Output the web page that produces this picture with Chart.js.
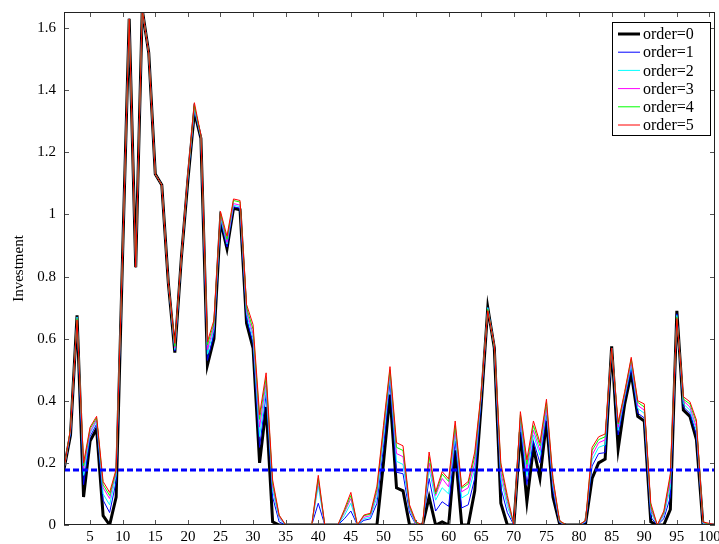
<!DOCTYPE html>
<html>
<head>
<meta charset="utf-8">
<script src="https://cdn.jsdelivr.net/npm/chart.js@4"></script>
<style>
  body { margin: 0; background: #fff; }
  #wrap { width: 719px; height: 544px; }
</style>
</head>
<body>
<div id="wrap"><canvas id="investChart" width="719" height="544"></canvas></div>
<script>
// periods 1..101 (axis stops a bit after 100)
var periods = Array.from({ length: 101 }, function (_, i) { return i + 1; });

var order0 = [0.18, 0.29, 0.675, 0.09, 0.27, 0.31, 0.03, 0.0, 0.09, 0.88,
  1.63, 0.83, 1.66, 1.52, 1.13, 1.095, 0.78, 0.555, 0.86, 1.11,
  1.33, 1.245, 0.515, 0.60, 0.98, 0.89, 1.02, 1.015, 0.65, 0.57,
  0.20, 0.38, 0.01, 0.0, 0, 0, 0, 0, 0, 0,
  0, 0, 0, 0, 0, 0, 0, 0, 0, 0.2,
  0.42, 0.12, 0.11, 0.0, 0, 0, 0.09, 0.0, 0.01, 0.0,
  0.24, 0.0, 0.0, 0.11, 0.39, 0.70, 0.57, 0.07, 0.0, 0,
  0.30, 0.075, 0.25, 0.15, 0.335, 0.09, 0.005, 0, 0, 0,
  0.005, 0.15, 0.2, 0.212, 0.575, 0.245, 0.39, 0.49, 0.35, 0.335,
  0.01, 0, 0.0, 0.05, 0.69, 0.37, 0.35, 0.275, 0.0, 0,
  0];
var order1 = [0.18, 0.295, 0.67, 0.13, 0.285, 0.325, 0.08, 0.04, 0.14, 0.88,
  1.63, 0.83, 1.66, 1.52, 1.13, 1.095, 0.78, 0.56, 0.86, 1.115,
  1.335, 1.245, 0.53, 0.615, 0.985, 0.895, 1.025, 1.02, 0.665, 0.585,
  0.25, 0.42, 0.09, 0.01, 0, 0, 0, 0, 0, 0.07,
  0, 0, 0, 0.02, 0.045, 0, 0.015, 0.02, 0.07, 0.25,
  0.46, 0.17, 0.165, 0.04, 0, 0, 0.15, 0.045, 0.075, 0.06,
  0.27, 0.055, 0.065, 0.15, 0.405, 0.70, 0.575, 0.12, 0.04, 0,
  0.32, 0.13, 0.27, 0.2, 0.355, 0.11, 0.008, 0, 0, 0,
  0.008, 0.19, 0.23, 0.233, 0.57, 0.29, 0.405, 0.505, 0.36, 0.345,
  0.025, 0, 0.02, 0.09, 0.68, 0.38, 0.36, 0.29, 0.005, 0,
  0];
var order2 = [0.18, 0.30, 0.67, 0.16, 0.295, 0.335, 0.10, 0.065, 0.16, 0.88,
  1.63, 0.83, 1.66, 1.52, 1.13, 1.095, 0.78, 0.565, 0.86, 1.12,
  1.34, 1.25, 0.55, 0.63, 0.99, 0.905, 1.03, 1.025, 0.68, 0.60,
  0.285, 0.44, 0.11, 0.02, 0, 0, 0, 0, 0, 0.125,
  0, 0, 0, 0.03, 0.07, 0, 0.02, 0.025, 0.09, 0.28,
  0.48, 0.205, 0.195, 0.05, 0, 0, 0.18, 0.08, 0.12, 0.10,
  0.29, 0.087, 0.10, 0.18, 0.415, 0.70, 0.575, 0.15, 0.06, 0,
  0.335, 0.16, 0.29, 0.225, 0.37, 0.125, 0.01, 0, 0, 0,
  0.01, 0.21, 0.25, 0.258, 0.57, 0.305, 0.415, 0.515, 0.375, 0.36,
  0.04, 0, 0.03, 0.12, 0.675, 0.39, 0.37, 0.305, 0.005, 0,
  0];
var order3 = [0.18, 0.305, 0.665, 0.18, 0.30, 0.34, 0.12, 0.085, 0.17, 0.88,
  1.63, 0.83, 1.66, 1.52, 1.13, 1.095, 0.78, 0.57, 0.86, 1.125,
  1.345, 1.25, 0.565, 0.64, 1.0, 0.91, 1.035, 1.03, 0.69, 0.615,
  0.315, 0.46, 0.125, 0.025, 0, 0, 0, 0, 0, 0.14,
  0, 0, 0, 0.04, 0.085, 0, 0.025, 0.03, 0.105, 0.30,
  0.49, 0.23, 0.22, 0.055, 0, 0, 0.20, 0.095, 0.15, 0.123,
  0.305, 0.107, 0.12, 0.20, 0.42, 0.695, 0.575, 0.17, 0.075, 0,
  0.345, 0.18, 0.305, 0.24, 0.38, 0.135, 0.01, 0, 0, 0,
  0.012, 0.225, 0.265, 0.274, 0.57, 0.315, 0.42, 0.525, 0.385, 0.37,
  0.05, 0, 0.035, 0.14, 0.67, 0.40, 0.38, 0.315, 0.008, 0,
  0];
var order4 = [0.18, 0.31, 0.665, 0.19, 0.31, 0.345, 0.13, 0.095, 0.175, 0.88,
  1.63, 0.83, 1.66, 1.52, 1.13, 1.095, 0.78, 0.575, 0.86, 1.125,
  1.35, 1.25, 0.58, 0.65, 1.005, 0.92, 1.045, 1.04, 0.70, 0.63,
  0.34, 0.475, 0.135, 0.03, 0, 0, 0, 0, 0, 0.15,
  0, 0, 0, 0.045, 0.095, 0, 0.03, 0.035, 0.115, 0.31,
  0.50, 0.25, 0.24, 0.06, 0.005, 0, 0.22, 0.10, 0.164, 0.14,
  0.32, 0.118, 0.133, 0.22, 0.425, 0.695, 0.575, 0.19, 0.085, 0,
  0.355, 0.195, 0.32, 0.255, 0.395, 0.145, 0.012, 0, 0, 0,
  0.014, 0.24, 0.275, 0.284, 0.57, 0.325, 0.425, 0.535, 0.395, 0.38,
  0.06, 0, 0.04, 0.155, 0.67, 0.405, 0.39, 0.33, 0.01, 0,
  0];
var order5 = [0.18, 0.31, 0.66, 0.20, 0.315, 0.35, 0.14, 0.105, 0.18, 0.88,
  1.63, 0.83, 1.66, 1.52, 1.13, 1.095, 0.78, 0.585, 0.86, 1.13,
  1.36, 1.255, 0.59, 0.66, 1.01, 0.93, 1.05, 1.045, 0.71, 0.645,
  0.355, 0.49, 0.145, 0.032, 0, 0, 0, 0, 0, 0.16,
  0, 0, 0, 0.05, 0.105, 0, 0.032, 0.038, 0.125, 0.32,
  0.51, 0.265, 0.255, 0.065, 0.01, 0, 0.235, 0.107, 0.172, 0.148,
  0.335, 0.123, 0.14, 0.235, 0.43, 0.69, 0.58, 0.20, 0.095, 0,
  0.365, 0.21, 0.335, 0.265, 0.405, 0.15, 0.015, 0, 0, 0,
  0.015, 0.25, 0.284, 0.293, 0.57, 0.33, 0.43, 0.54, 0.40, 0.39,
  0.07, 0, 0.045, 0.165, 0.665, 0.413, 0.397, 0.338, 0.01, 0.005,
  0];

var threshold = 0.177;
var xTicks = [5, 10, 15, 20, 25, 30, 35, 40, 45, 50, 55, 60, 65, 70, 75, 80, 85, 90, 95, 100];
var yTicks = [0, 0.2, 0.4, 0.6, 0.8, 1, 1.2, 1.4, 1.6];

var seriesNames = ['order=0', 'order=1', 'order=2', 'order=3', 'order=4', 'order=5'];
var seriesData = [order0, order1, order2, order3, order4, order5];
var seriesColors = ['#000000', '#0000ff', '#00ffff', '#ff00ff', '#00ff00', '#ff0000'];

const serif = "'Liberation Serif', 'DejaVu Serif', serif";

function toPoints(arr) {
  return arr.map(function (v, i) { return { x: periods[i], y: v }; });
}

var datasets = seriesData.map(function (arr, k) {
  return {
    label: seriesNames[k],
    data: toPoints(arr),
    borderColor: seriesColors[k],
    backgroundColor: seriesColors[k],
    borderWidth: k === 0 ? 3 : 1,
    pointRadius: 0,
    tension: 0,
    order: 6 - k
  };
});
datasets.push({
  label: 'threshold',
  data: [{ x: periods[0], y: threshold }, { x: periods[periods.length - 1], y: threshold }],
  borderColor: '#0000ff',
  borderWidth: 3,
  borderDash: [6, 3],
  pointRadius: 0,
  order: 0
});

// inside tick marks, frame and the boxed legend
const framePlugin = {
  id: 'frame',
  afterDatasetsDraw(chart) {
    const ctx = chart.ctx;
    const a = chart.chartArea;
    const xs = chart.scales.x, ys = chart.scales.y;
    ctx.save();
    ctx.strokeStyle = '#555';
    ctx.lineWidth = 1;
    ctx.beginPath();
    xTicks.forEach(function (t) {
      const px = Math.round(xs.getPixelForValue(t)) + 0.5;
      ctx.moveTo(px, a.bottom); ctx.lineTo(px, a.bottom - 5);
      ctx.moveTo(px, a.top); ctx.lineTo(px, a.top + 5);
    });
    yTicks.forEach(function (t) {
      const py = Math.round(ys.getPixelForValue(t)) + 0.5;
      ctx.moveTo(a.left, py); ctx.lineTo(a.left + 5, py);
      ctx.moveTo(a.right, py); ctx.lineTo(a.right - 5, py);
    });
    ctx.stroke();
    ctx.strokeStyle = '#222';
    ctx.strokeRect(a.left + 0.5, a.top + 0.5, a.right - a.left - 1, a.bottom - a.top - 1);

    // legend box
    const lx = 612.5, ly = 22.5, lw = 98, lh = 113;
    ctx.fillStyle = '#fff';
    ctx.fillRect(lx, ly, lw, lh);
    ctx.strokeStyle = '#000';
    ctx.lineWidth = 1;
    ctx.strokeRect(lx, ly, lw, lh);
    ctx.font = '16px ' + serif;
    ctx.textBaseline = 'middle';
    ctx.textAlign = 'left';
    seriesNames.forEach(function (name, k) {
      const yy = 34 + k * 18.2;
      ctx.beginPath();
      ctx.strokeStyle = seriesColors[k];
      ctx.lineWidth = k === 0 ? 3 : 1;
      ctx.moveTo(618, yy); ctx.lineTo(640, yy);
      ctx.stroke();
      ctx.fillStyle = '#000';
      ctx.fillText(name, 643, yy + 1);
    });
    ctx.restore();
  }
};

const ctx = document.getElementById('investChart').getContext('2d');
const investChart = new Chart(ctx, {
  type: 'line',
  data: { datasets: datasets },
  options: {
    responsive: false,
    animation: false,
    layout: { padding: { top: 12, right: 4, left: 0, bottom: 0 } },
    plugins: { legend: { display: false }, tooltip: { enabled: false } },
    scales: {
      x: {
        type: 'linear',
        min: 1,
        max: 100.85,
        grid: { display: false, drawTicks: false },
        border: { display: false },
        afterBuildTicks: function (scale) {
          scale.ticks = xTicks.map(function (v) { return { value: v }; });
        },
        afterFit: function (scale) {
          scale.height = 19;
          scale.paddingLeft = 0;
          scale.paddingRight = 0;
        },
        ticks: {
          padding: 3,
          maxRotation: 0,
          autoSkip: false,
          color: '#000',
          font: { family: serif, size: 15 }
        }
      },
      y: {
        min: 0,
        max: 1.652,
        grid: { display: false, drawTicks: false },
        border: { display: false },
        afterBuildTicks: function (scale) {
          scale.ticks = yTicks.map(function (v) { return { value: v }; });
        },
        afterFit: function (scale) {
          scale.width = 64;
          scale.paddingTop = 0;
          scale.paddingBottom = 0;
        },
        ticks: {
          padding: 8,
          color: '#000',
          font: { family: serif, size: 15 },
          callback: function (v) { return String(v); }
        },
        title: {
          display: true,
          text: 'Investment',
          color: '#000',
          font: { family: serif, size: 15 },
          padding: { top: 10, bottom: 0 }
        }
      }
    }
  },
  plugins: [framePlugin]
});
</script>
</body>
</html>
